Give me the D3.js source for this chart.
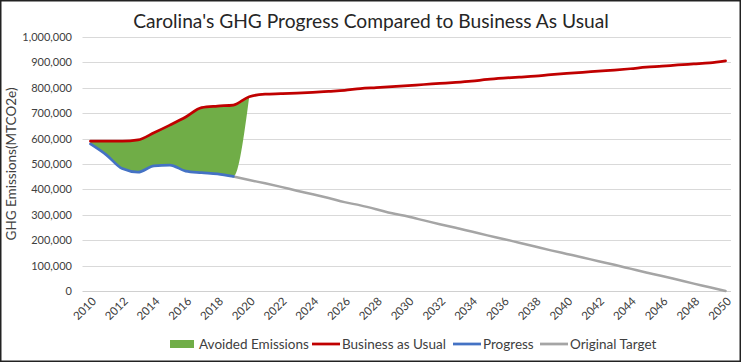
<!DOCTYPE html>
<html>
<head>
<meta charset="utf-8">
<script src="https://cdn.jsdelivr.net/npm/d3@7"></script>
<style>
  html, body { margin: 0; padding: 0; background: #fff; }
  svg { display: block; }
  text { font-family: Lato, "Open Sans", sans-serif; fill: #404040; }
</style>
</head>
<body>
<svg id="chart" width="742" height="363"></svg>
<script>
const years = d3.range(2010, 2051);
const yTicks = [0, 100000, 200000, 300000, 400000, 500000, 600000, 700000, 800000, 900000, 1000000];
const xTickYears = years.filter(y => (y - 2010) % 2 === 0);

// Business as Usual 2010..2050
const businessAsUsual = [
  590000, 590000, 590000, 595000, 623000, 653000, 685000, 722000, 728000, 732000,
  765000, 775000, 777000, 779000, 782000, 786000, 790000, 797000, 801000, 805000,
  809000, 813000, 817000, 821000, 826000, 833000, 838000, 842000, 846000, 852000,
  857000, 861000, 866000, 870000, 875000, 881000, 885000, 890000, 894000, 898000,
  906000
];
// Progress 2010..2019
const progressYears = d3.range(2010, 2020);
const progress = [579000, 536000, 482000, 468000, 493000, 496000, 472000, 466000, 461000, 451000];
// Original target 2019..2050
const targetYears = d3.range(2019, 2051);
const originalTarget = [
  451000, 437000, 424000, 410000, 395000, 381000, 366000, 350000, 337000, 322000,
  306000, 293000, 278000, 263000, 249000, 234000, 219000, 205000, 190000, 175000,
  160000, 146000, 132000, 117000, 103000, 88000, 73000, 59000, 44000, 29000,
  15000, 0
];
// Avoided emissions area: 2010..2020 (bottom = progress, top = BAU; closes at 2020)
const avoidedYears = d3.range(2010, 2021);

const legendItems = [
  {label: "Avoided Emissions", type: "area", color: "#70AD47"},
  {label: "Business as Usual", type: "line", color: "#C00000"},
  {label: "Progress", type: "line", color: "#4472C4"},
  {label: "Original Target", type: "line", color: "#A5A5A5"}
];

const svg = d3.select("#chart");
const W = 742, H = 363;

const x = d3.scalePoint().domain(years).range([82.5, 733.5]).padding(0.5);
const y = d3.scaleLinear().domain([0, 1000000]).range([291, 37]);

// border
svg.append("rect").attr("x", 0.75).attr("y", 0.75).attr("width", W - 2.5).attr("height", H - 2.5)
  .attr("fill", "none").attr("stroke", "#222").attr("stroke-width", 1.5);

// title
svg.append("text").attr("x", 371).attr("y", 28).attr("text-anchor", "middle")
  .style("font-size", "19.2px").style("fill", "#262626")
  .text("Carolina's GHG Progress Compared to Business As Usual");

// gridlines
svg.append("g").selectAll("line").data(yTicks).join("line")
  .attr("x1", 82.5).attr("x2", 731).attr("y1", d => Math.round(y(d)) + 0.5).attr("y2", d => Math.round(y(d)) + 0.5)
  .attr("stroke", d => d === 0 ? "#D0D0D0" : "#D9D9D9").attr("stroke-width", 1);

// y axis labels
const yAxis = d3.axisLeft(y).tickValues(yTicks).tickSize(0).tickPadding(0)
  .tickFormat(d => d === 0 ? "0" : d3.format(",")(d));
const gy = svg.append("g").attr("transform", "translate(72,0)").call(yAxis);
gy.select(".domain").remove();
gy.selectAll("text").style("font-size", "11px").style("font-family", "Lato, sans-serif").attr("fill", "#404040");

// x axis labels
const xAxis = d3.axisBottom(x).tickValues(xTickYears).tickSize(0).tickPadding(0);
const gx = svg.append("g").attr("transform", "translate(0,291)").call(xAxis);
gx.select(".domain").remove();
gx.selectAll("text").style("font-size", "11.5px").style("font-family", "Lato, sans-serif").attr("fill", "#404040")
  .attr("text-anchor", "end").attr("dy", null).attr("y", 0)
  .attr("transform", "translate(6,11) rotate(-45)");

// y axis title
svg.append("text").attr("transform", "translate(16,164) rotate(-90)").attr("text-anchor", "middle")
  .style("font-size", "13.5px").style("fill", "#404040").text("GHG Emissions(MTCO2e)");

// avoided area
const avoidedData = avoidedYears.map(yr => {
  const i = yr - 2010;
  const top = businessAsUsual[i];
  const pi = progressYears.indexOf(yr);
  const bottom = pi >= 0 ? progress[pi] : top;
  return {yr, top, bottom};
});
svg.append("path").datum(avoidedData)
  .attr("d", d3.area().x(d => x(d.yr)).y0(d => y(d.bottom)).y1(d => y(d.top)).curve(d3.curveMonotoneX))
  .attr("fill", "#70AD47");

const line = d3.line().x(d => x(d[0])).y(d => y(d[1])).curve(d3.curveMonotoneX);

svg.append("path").datum(targetYears.map((yr, i) => [yr, originalTarget[i]]))
  .attr("d", line).attr("fill", "none").attr("stroke", "#A5A5A5").attr("stroke-width", 2.5)
  .attr("stroke-linejoin", "round").attr("stroke-linecap", "round");
svg.append("path").datum(progressYears.map((yr, i) => [yr, progress[i]]))
  .attr("d", line).attr("fill", "none").attr("stroke", "#4472C4").attr("stroke-width", 2.75)
  .attr("stroke-linejoin", "round").attr("stroke-linecap", "round");
svg.append("path").datum(years.map((yr, i) => [yr, businessAsUsual[i]]))
  .attr("d", line).attr("fill", "none").attr("stroke", "#C00000").attr("stroke-width", 2.75)
  .attr("stroke-linejoin", "round").attr("stroke-linecap", "round");

// legend
const legendX = [170, 312, 453, 540];
const lg = svg.append("g");
legendItems.forEach((it, i) => {
  const g = lg.append("g").attr("transform", `translate(${legendX[i]},344)`);
  if (it.type === "area") {
    g.append("rect").attr("x", 0).attr("y", -4).attr("width", 24).attr("height", 8).attr("fill", it.color);
    g.append("text").attr("x", 29).attr("y", 5).style("font-size", "13.5px").style("fill", "#404040").text(it.label);
  } else {
    g.append("line").attr("x1", 0).attr("x2", 28).attr("y1", 0).attr("y2", 0)
      .attr("stroke", it.color).attr("stroke-width", 2.75);
    g.append("text").attr("x", 30).attr("y", 5).style("font-size", "13.5px").style("fill", "#404040").text(it.label);
  }
});
</script>
</body>
</html>
